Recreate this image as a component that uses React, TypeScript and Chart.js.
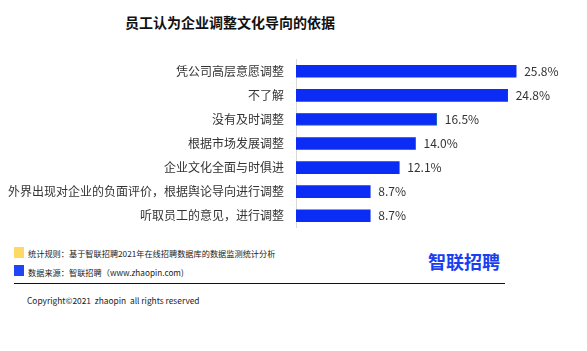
import React, { useEffect, useRef } from "react";
import { Chart, registerables } from "chart.js";

Chart.register(...registerables);

const categories = [
  "凭公司高层意愿调整",
  "不了解",
  "没有及时调整",
  "根据市场发展调整",
  "企业文化全面与时俱进",
  "外界出现对企业的负面评价，根据舆论导向进行调整",
  "听取员工的意见，进行调整",
];
const values = [25.8, 24.8, 16.5, 14.0, 12.1, 8.7, 8.7];
const title = "员工认为企业调整文化导向的依据";
const note1 = "统计规则：基于智联招聘2021年在线招聘数据库的数据监测统计分析";
const note2 = "数据来源：智联招聘（www.zhaopin.com)";
const logo = "智联招聘";
const copyright = "Copyright©2021  zhaopin  all rights reserved";

const FONT = "'Noto Sans CJK SC', 'Noto Sans', sans-serif";

const valueLabels = {
  id: "valueLabels",
  afterDatasetsDraw(chart: any) {
    const ctx = chart.ctx;
    const meta = chart.getDatasetMeta(0);
    ctx.save();
    ctx.font = `12px ${FONT}`;
    ctx.fillStyle = "#333333";
    ctx.textAlign = "left";
    ctx.textBaseline = "middle";
    meta.data.forEach((bar: any, i: number) => {
      ctx.fillText(values[i].toFixed(1) + "%", bar.x + 8, bar.y);
    });
    ctx.restore();
  },
};

export default function App() {
  const ref = useRef<HTMLCanvasElement>(null);
  useEffect(() => {
    if (!ref.current) return;
    const chart = new Chart(ref.current, {
      type: "bar",
      data: {
        labels: categories,
        datasets: [
          {
            data: values,
            backgroundColor: "#0b2cf5",
            borderColor: values.map((_, i) => (i === 2 ? "#1a6fb0" : "#0b2cf5")),
            borderWidth: values.map((_, i) => (i === 2 ? 1 : 0)),
            barThickness: 12,
          },
        ],
      },
      options: {
        indexAxis: "y",
        animation: false,
        responsive: false,
        maintainAspectRatio: false,
        layout: { padding: { top: 0, bottom: 0, right: 35, left: 0 } },
        plugins: { legend: { display: false }, tooltip: { enabled: false } },
        scales: {
          x: { display: false, min: 0, max: 30 },
          y: {
            afterFit: (s: any) => {
              s.width = 296;
            },
            grid: { display: false, drawTicks: false },
            border: { display: true, color: "#d9d9d9", width: 1 },
            ticks: {
              padding: 12,
              color: "#333333",
              font: { size: 12, family: FONT },
            },
          },
        },
      },
      plugins: [valueLabels],
    });
    return () => chart.destroy();
  }, []);

  const abs = (s: React.CSSProperties): React.CSSProperties => ({ position: "absolute", ...s });

  return (
    <div
      style={{
        position: "absolute",
        left: 0,
        top: 0,
        width: 587,
        height: 351,
        background: "#ffffff",
        fontFamily: FONT,
        overflow: "hidden",
      }}
    >
      <div
        style={abs({
          left: 0,
          width: 460,
          top: 11,
          textAlign: "center",
          fontSize: 14,
          fontWeight: "bold",
          color: "#111",
          lineHeight: "22px",
        })}
      >
        {title}
      </div>
      <canvas ref={ref} width={587} height={207} style={abs({ left: 0, top: 40, width: 587, height: 207 })} />
      <div style={abs({ left: 14, top: 247, width: 10, height: 11, background: "#ffd966" })} />
      <div style={abs({ left: 28, top: 247, fontSize: 8.2, lineHeight: "13px", color: "#222", whiteSpace: "nowrap" })}>
        {note1}
      </div>
      <div style={abs({ left: 14, top: 265, width: 10, height: 11, background: "#1f45f5" })} />
      <div style={abs({ left: 28, top: 266, fontSize: 8.2, lineHeight: "13px", color: "#222", whiteSpace: "nowrap" })}>
        {note2}
      </div>
      <div
        style={abs({
          left: 428,
          top: 249,
          fontSize: 18,
          fontWeight: "bold",
          color: "#1a3ef0",
          lineHeight: "24px",
          whiteSpace: "nowrap",
        })}
      >
        {logo}
      </div>
      <div style={abs({ left: 14, top: 283, width: 491, height: 1, background: "#111" })} />
      <div style={abs({ left: 27, top: 293, fontSize: 8.4, lineHeight: "14px", color: "#222", whiteSpace: "pre" })}>
        {copyright}
      </div>
    </div>
  );
}
